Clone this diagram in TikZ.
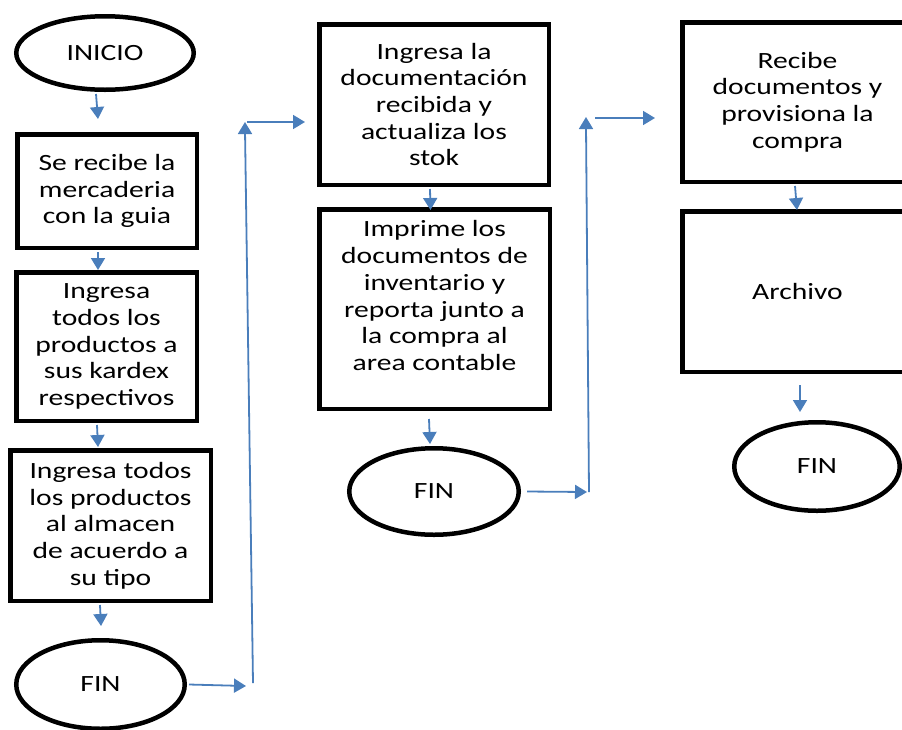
\documentclass[tikz,border=0pt]{standalone}
\usepackage{fontspec}
\setmainfont[FakeStretch=1.27]{Carlito}
\usetikzlibrary{shapes.geometric,arrows.meta}
\definecolor{azul}{HTML}{4A7EBB}
\def\letra{\fontsize{23.3}{26.7}\selectfont}
\tikzset{
  caja/.style={draw, line width=4.5pt, rectangle, align=center, font=\letra, inner sep=0pt},
  elipse/.style={draw, line width=4.5pt, ellipse, font=\letra, inner sep=0pt},
  flecha/.style={color=azul, line width=1.8pt, -{Triangle[length=12pt,width=14pt]}},
  linea/.style={color=azul, line width=1.8pt}
}

\begin{document}
\begin{tikzpicture}[x=1pt, y=-1pt]
			%%%%% START %%%%%
			\useasboundingbox (0, 0) rectangle (902, 729);
			
			% primera columna
			\node[elipse, minimum width=177.5pt, minimum height=73.5pt] (inicio) at (105, 53) {INICIO};
			\node[caja, minimum width=179.5pt, minimum height=113.5pt] (recibe) at (107, 191) {Se recibe la\\mercaderia\\con la guia};
			\node[caja, minimum width=180.5pt, minimum height=148.5pt] (kardex) at (106.5, 346.5) {Ingresa\\todos los\\productos a\\sus kardex\\respectivos};
			\node[caja, minimum width=200.5pt, minimum height=150.5pt] (almacen) at (110.5, 525.5) {Ingresa todos\\los productos\\al almacen\\de acuerdo a\\su tipo};
			\node[elipse, minimum width=168.5pt, minimum height=88.5pt] (finA) at (100.5, 684.5) {FIN};
			
			\draw[flecha] ([xshift=-9pt, yshift=-2pt]inicio.south) -- ([xshift=-9pt, yshift=13pt]recibe.north);
			\draw[flecha] ([xshift=-9pt, yshift=-2pt]recibe.south) -- ([xshift=-8.5pt]kardex.north);
			\draw[flecha] ([xshift=-9.5pt, yshift=-2pt]kardex.south) -- ([xshift=-12.5pt, yshift=1pt]almacen.north);
			\draw[flecha] ([xshift=-10.5pt, yshift=-2pt]almacen.south) -- ([xshift=0.5pt, yshift=12pt]finA.north);
			
			\coordinate (subeA) at (246, 686);
			\coordinate (baseA) at (253, 683);
			\coordinate (topeA) at (245, 122);
			\coordinate (giroA) at (247, 122);
			\draw[flecha] ([xshift=2pt]finA.east) -- (subeA);
			\draw[linea] (baseA) -- ([yshift=-8pt]topeA);
			\draw[flecha] ([yshift=-12pt]topeA) -- (topeA);
			
			% segunda columna
			\node[caja, minimum width=229.5pt, minimum height=160.5pt] (ingresa) at (434, 104.5) {Ingresa la\\documentación\\recibida y\\actualiza los\\stok};
			\node[caja, minimum width=230.5pt, minimum height=199.5pt] (imprime) at (434.5, 309) {Imprime los\\documentos de\\inventario y\\reporta junto a\\la compra al\\area contable\\\mbox{}};
			\node[elipse, minimum width=169.5pt, minimum height=86.5pt] (finB) at (434, 491.5) {FIN};
			
			\draw[flecha] (giroA) -- ([xshift=-12pt]ingresa.west |- giroA);
			\draw[flecha] ([xshift=-4pt, yshift=-2pt]ingresa.south) -- ([xshift=-4pt, yshift=-3pt]imprime.north);
			\draw[flecha] ([xshift=-5.5pt, yshift=-8pt]imprime.south) -- ([xshift=-4pt, yshift=2pt]finB.north);
			
			\coordinate (subeB) at (587, 492);
			\coordinate (baseB) at (589, 492);
			\coordinate (topeB) at (586, 117);
			\coordinate (giroB) at (595, 118);
			\draw[flecha] ([xshift=6pt]finB.east) -- (subeB);
			\draw[linea] (baseB) -- ([yshift=-8pt]topeB);
			\draw[flecha] ([yshift=-12pt]topeB) -- (topeB);
			
			% tercera columna
			\node[caja, minimum width=230.5pt, minimum height=159.5pt] (provisiona) at (797.5, 102) {Recibe\\documentos y\\provisiona la\\compra};
			\node[caja, minimum width=230.5pt, minimum height=160.5pt] (archivo) at (797.5, 291.5) {Archivo};
			\node[elipse, minimum width=165.5pt, minimum height=88.5pt] (finC) at (817, 466.5) {FIN};
			
			\draw[flecha] (giroB) -- ([xshift=-25pt]provisiona.west |- giroB);
			\draw[flecha] ([xshift=-2.5pt, yshift=-2pt]provisiona.south) -- ([xshift=-0.5pt, yshift=-1pt]archivo.north);
			\draw[flecha] ([xshift=2.5pt, yshift=-11pt]archivo.south) -- ([xshift=-17pt, yshift=8pt]finC.north);
			
			%%%%% END %%%%%
		\end{tikzpicture}
\end{document}
